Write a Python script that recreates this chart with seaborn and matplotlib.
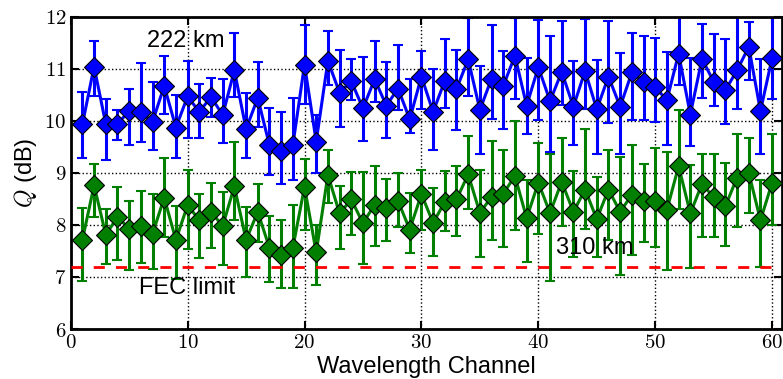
import numpy as np
import pandas as pd
import matplotlib
matplotlib.use('Agg')
import matplotlib.pyplot as plt
from matplotlib.ticker import FuncFormatter, MultipleLocator
import seaborn as sns

# Q factor per wavelength channel
channels = np.arange(1, 61)

q_222 = [9.93, 11.04, 9.94, 9.94, 10.19, 10.17, 9.98, 10.67, 9.87, 10.47,
         10.17, 10.46, 10.11, 10.97, 9.84, 10.44, 9.53, 9.42, 9.53, 11.08,
         9.60, 11.15, 10.54, 10.76, 10.24, 10.80, 10.29, 10.62, 10.03, 10.85,
         10.17, 10.77, 10.61, 11.18, 10.21, 10.81, 10.67, 11.25, 10.29, 11.03,
         10.38, 10.94, 10.27, 10.96, 10.22, 10.85, 10.27, 10.93, 10.75, 10.64,
         10.40, 11.29, 10.12, 11.19, 10.75, 10.59, 10.97, 11.42, 10.19, 11.21]
hi_222 = [10.56, 11.54, 10.41, 10.20, 10.62, 11.12, 10.75, 11.25, 10.49, 11.15,
          10.70, 10.83, 10.81, 11.68, 10.53, 11.13, 10.24, 10.17, 10.43, 11.84,
          10.12, 11.73, 11.36, 11.18, 11.23, 11.53, 11.13, 11.46, 10.81, 11.35,
          11.00, 11.58, 11.36, 11.97, 11.05, 11.84, 11.35, 11.97, 11.20, 11.94,
          11.63, 11.92, 11.15, 11.95, 11.17, 11.92, 11.31, 11.69, 11.62, 11.60,
          11.33, 12.10, 11.20, 11.86, 11.67, 11.57, 12.05, 11.90, 11.18, 12.10]
lo_222 = [9.29, 10.47, 9.24, 9.63, 9.54, 9.60, 9.44, 10.14, 9.28, 9.67,
          9.66, 10.08, 9.58, 10.46, 9.28, 9.88, 8.96, 8.78, 8.87, 10.33,
          9.00, 10.69, 9.88, 10.40, 9.62, 10.37, 9.67, 10.21, 9.76, 10.22,
          9.44, 10.24, 9.82, 10.47, 9.37, 10.04, 9.85, 10.41, 9.74, 10.01,
          9.40, 10.30, 9.54, 10.22, 9.37, 9.95, 9.36, 10.01, 10.01, 9.98,
          9.54, 10.69, 9.51, 10.43, 10.28, 9.93, 10.22, 10.78, 9.36, 10.41]

q_310 = [7.71, 8.76, 7.81, 8.15, 7.93, 7.97, 7.83, 8.52, 7.71, 8.38,
         8.09, 8.25, 7.98, 8.74, 7.71, 8.25, 7.56, 7.42, 7.56, 8.73,
         7.47, 8.96, 8.22, 8.49, 8.03, 8.39, 8.33, 8.46, 7.91, 8.59,
         8.04, 8.44, 8.49, 8.97, 8.23, 8.54, 8.60, 8.94, 8.13, 8.81,
         8.23, 8.83, 8.25, 8.68, 8.11, 8.68, 8.25, 8.58, 8.46, 8.46,
         8.29, 9.13, 8.22, 8.79, 8.53, 8.36, 8.91, 9.00, 8.09, 8.81]
hi_310 = [8.33, 9.17, 8.31, 8.73, 8.46, 8.65, 8.60, 9.28, 8.36, 9.05,
          8.60, 8.81, 8.63, 9.60, 8.35, 8.78, 8.17, 8.10, 8.38, 9.26,
          8.00, 9.44, 8.74, 9.02, 9.02, 9.13, 8.89, 9.00, 8.62, 9.06,
          8.70, 9.03, 9.13, 9.71, 9.05, 9.61, 9.44, 9.99, 8.86, 9.58,
          9.37, 9.67, 9.03, 9.84, 8.92, 9.44, 9.30, 9.53, 9.17, 9.47,
          9.40, 10.20, 9.15, 9.37, 9.36, 9.18, 9.74, 9.67, 8.87, 9.74]
lo_310 = [6.92, 8.15, 7.24, 7.32, 7.13, 7.26, 7.16, 7.77, 6.97, 7.54,
          7.37, 7.56, 7.22, 8.09, 6.99, 7.67, 6.90, 6.78, 6.79, 7.90,
          6.84, 8.42, 7.53, 7.80, 7.24, 7.60, 7.69, 7.96, 7.46, 7.91,
          7.40, 7.88, 7.78, 8.31, 7.38, 7.71, 7.58, 7.90, 7.29, 7.83,
          6.92, 7.97, 7.38, 7.93, 7.38, 7.71, 7.04, 7.42, 7.67, 7.58,
          7.14, 8.30, 7.18, 7.76, 7.77, 7.59, 7.96, 8.22, 7.19, 7.99]

fec_limit = 7.2

sns.set_style('ticks')
plt.rcParams['font.family'] = ['Liberation Sans', 'DejaVu Sans']
plt.rcParams['mathtext.fontset'] = 'cm'
for key in ['text.color', 'axes.labelcolor', 'xtick.color', 'ytick.color',
            'axes.edgecolor']:
    plt.rcParams[key] = 'k'

fig = plt.figure(figsize=(7.83, 3.79), dpi=100)
ax = fig.add_axes([70.7 / 783, 50 / 379, (781.5 - 70.7) / 783, (329 - 16.7) / 379])

series = [
    (q_310, lo_310, hi_310, '#007f00'),
    (q_222, lo_222, hi_222, '#0000ff'),
]
for q, lo, hi, col in series:
    q = np.array(q)
    err = [q - np.array(lo), np.array(hi) - q]
    ax.errorbar(channels, q, yerr=err, fmt='none', ecolor=col,
                elinewidth=2.2, capsize=3.5, capthick=1.5, zorder=2)
    sns.lineplot(x=channels, y=q, ax=ax, color=col, lw=2.2, marker='D',
                 markersize=10, markeredgecolor='k', markeredgewidth=0.8,
                 legend=False, zorder=3)

ax.axhline(fec_limit, color='r', ls='--', lw=2, dashes=(4, 4), zorder=4)

ax.text(6.5, 11.54, '222 km', fontsize=17, va='center')
ax.text(41.5, 7.56, '310 km', fontsize=17, va='center')
ax.text(5.8, 6.78, 'FEC limit', fontsize=17, va='center')

ax.set_xlim(0, 60.8)
ax.set_ylim(6, 12)
ax.xaxis.set_major_locator(MultipleLocator(10))
ax.yaxis.set_major_locator(MultipleLocator(1))
fmt = FuncFormatter(lambda v, p: f'${v:g}$')
ax.xaxis.set_major_formatter(fmt)
ax.yaxis.set_major_formatter(fmt)
ax.tick_params(direction='in', length=6, width=1.5, labelsize=15, pad=3,
               top=True, right=True)
ax.grid(True, color='k', ls=':', lw=1)
for s in ax.spines.values():
    s.set_linewidth(2)

ax.set_xlabel('Wavelength Channel', fontsize=17, labelpad=3)
ax.set_ylabel(r'$Q$ (dB)', fontsize=17, labelpad=4)

fig.savefig('out.png', dpi=100)
